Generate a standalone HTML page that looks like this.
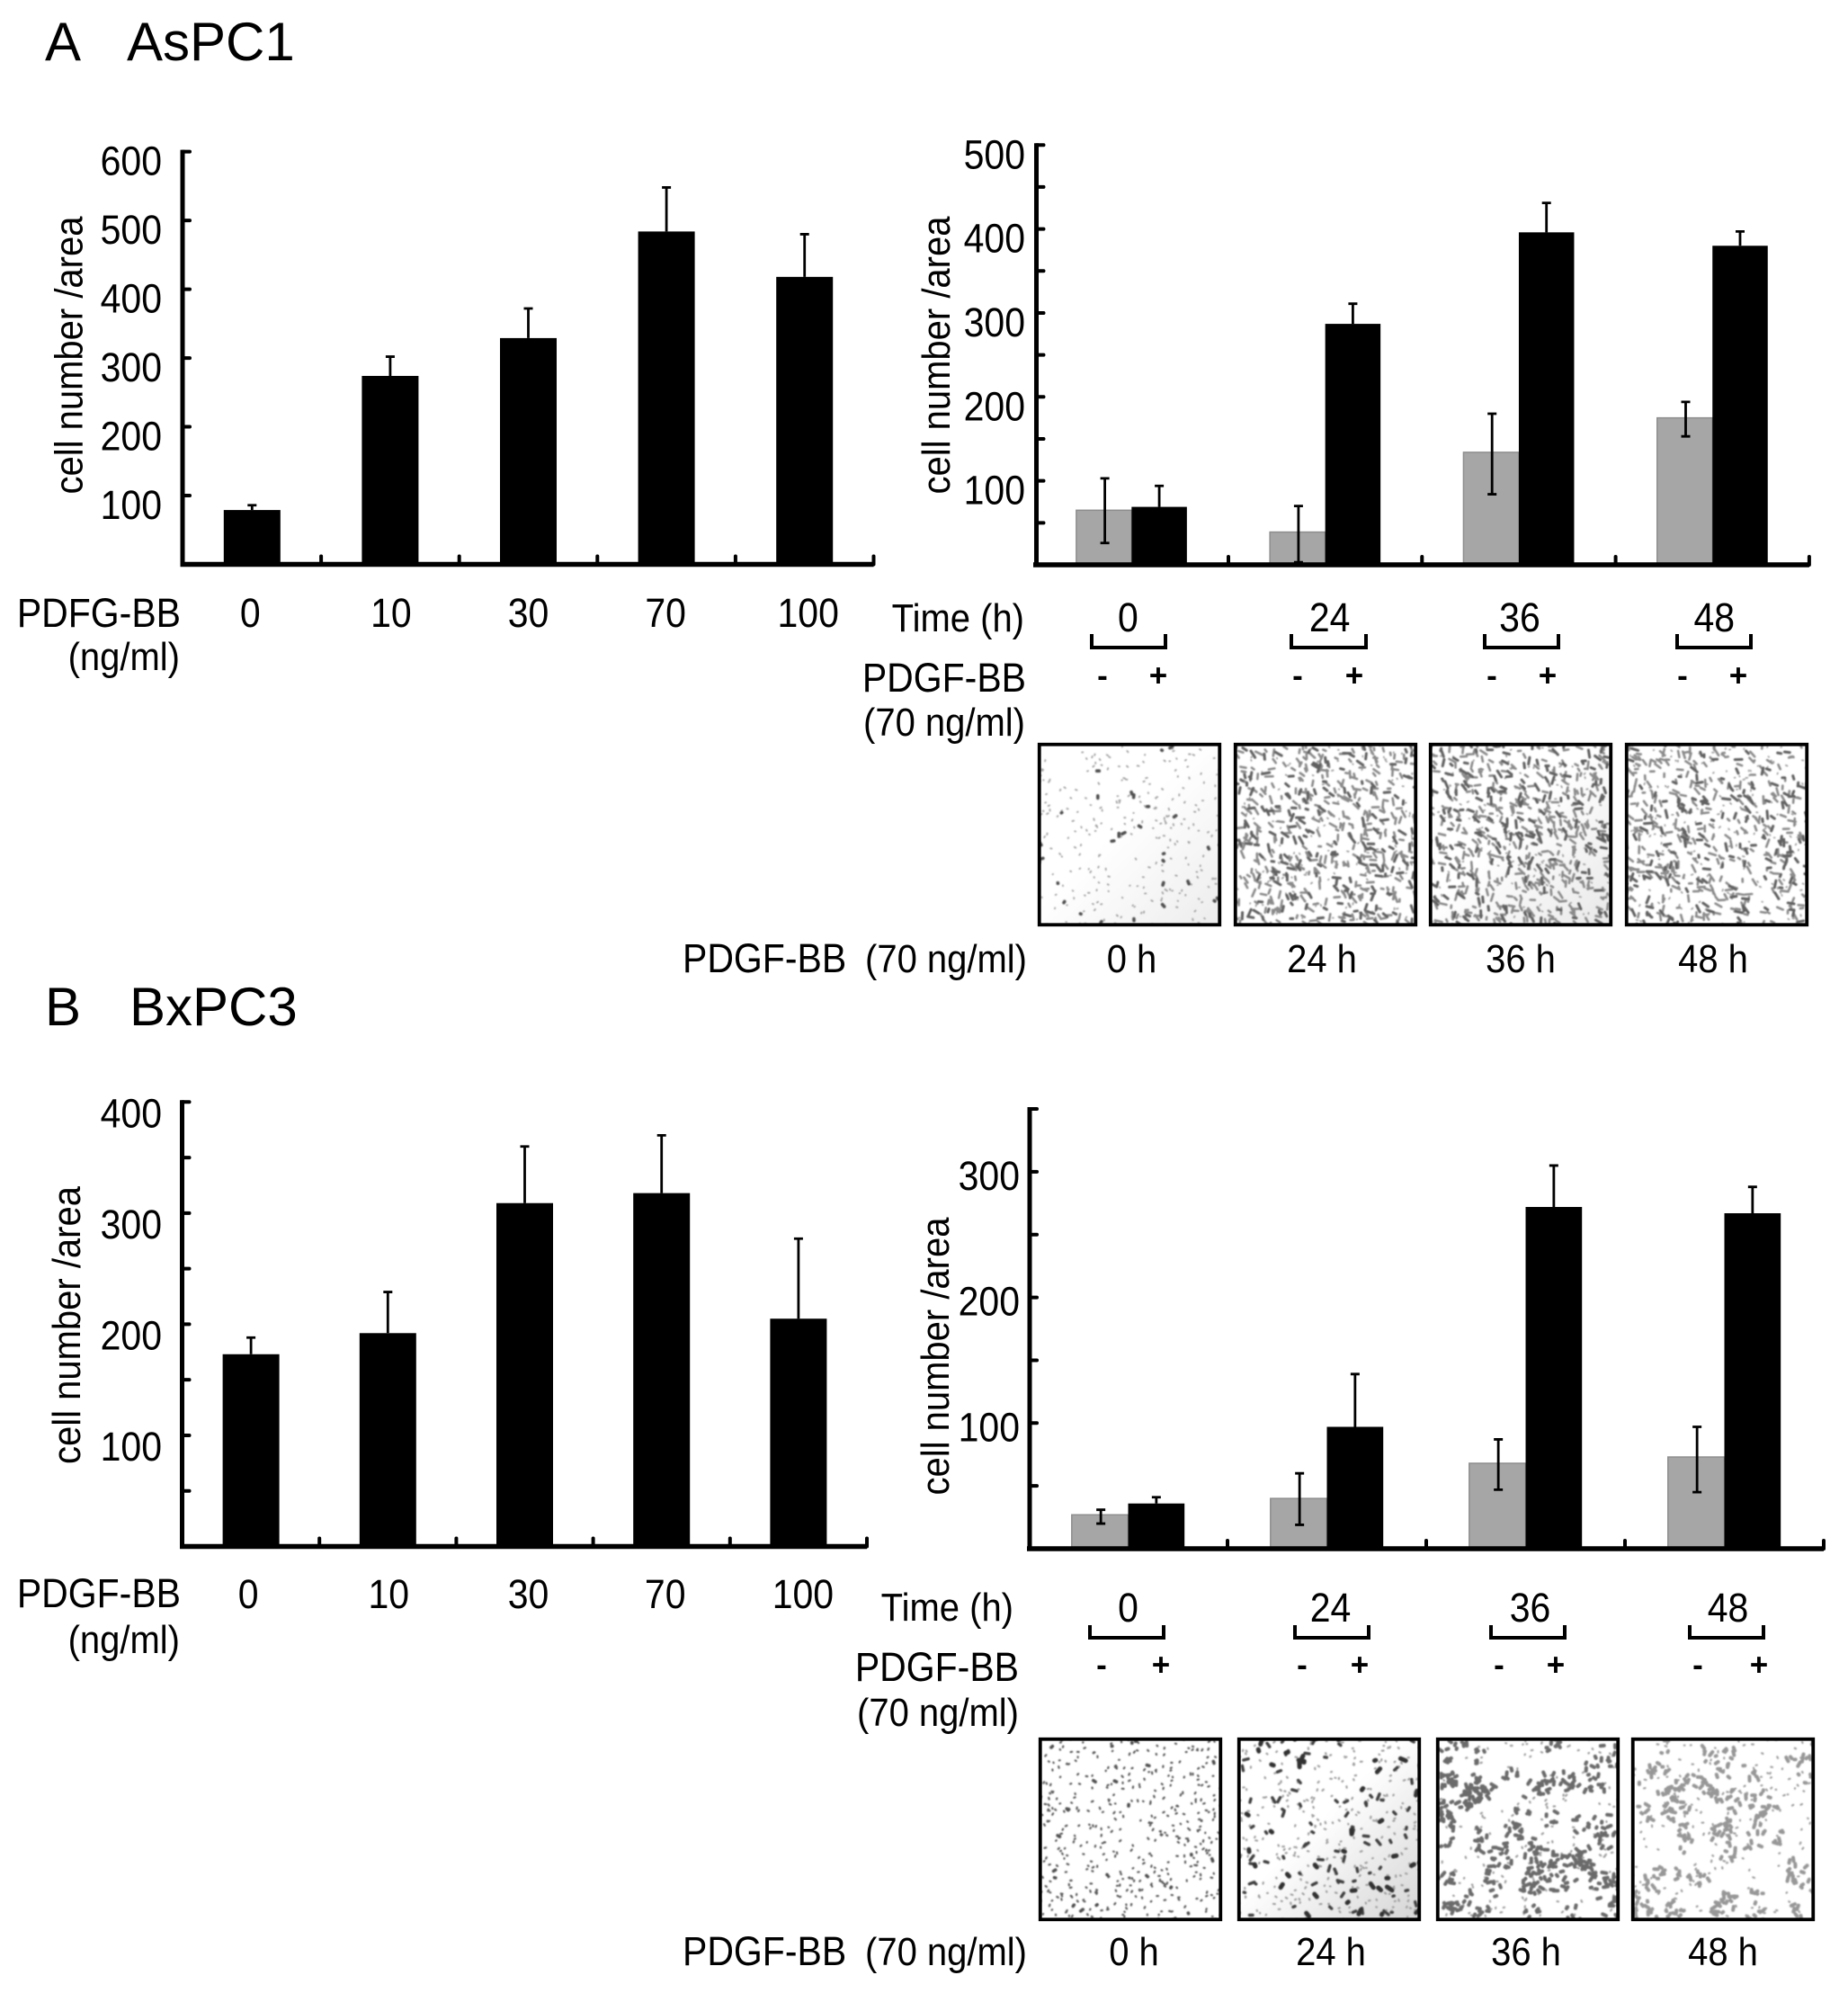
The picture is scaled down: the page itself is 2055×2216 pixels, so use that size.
<!DOCTYPE html>
<html lang="en">
<head>
<meta charset="utf-8">
<title>PDGF-BB cell migration in AsPC1 and BxPC3</title>
<style>
html,body{margin:0;padding:0;background:#fff;width:2055px;height:2216px;overflow:hidden}
svg{position:absolute;left:0;top:0;display:block}
text{font-family:"Liberation Sans",Arial,sans-serif;font-size:40px;fill:#000}
.r{text-anchor:end}
.m{text-anchor:middle}
.t{font-size:60px}
.w{font-size:41px}
.s{font-size:35px;font-weight:bold;text-anchor:middle}
</style>
</head>
<body>
<svg id="fig" width="2055" height="2216" viewBox="0 0 2055 2216" xmlns="http://www.w3.org/2000/svg">
  <defs>
    <filter id="soft" x="-5%" y="-5%" width="110%" height="110%"><feGaussianBlur stdDeviation="0.7"/></filter>
  </defs>
  <rect width="2055" height="2216" fill="#fff"/>

  <text class="t" x="50" y="67">A</text>
  <text class="t" x="141" y="67">AsPC1</text>
  <text class="t" x="50" y="1140">B</text>
  <text class="t" x="144" y="1140">BxPC3</text>

  <text class="r w" x="201" y="695">PDFG-BB</text>
  <text class="r" x="200" y="743">(ng/ml)</text>
  <text class="r w" x="201" y="1785">PDGF-BB</text>
  <text class="r" x="200" y="1836">(ng/ml)</text>

  <text class="r" x="1139" y="700">Time (h)</text>
  <text class="r w" x="1141" y="767">PDGF-BB</text>
  <text class="r" x="1140" y="816">(70 ng/ml)</text>
  <text class="r" x="1127" y="1800">Time (h)</text>
  <text class="r w" x="1133" y="1867">PDGF-BB</text>
  <text class="r" x="1133" y="1917">(70 ng/ml)</text>

  <g fill="none" stroke="#000" stroke-width="4">
    <path d="M1221 705V720H1303V705" transform="translate(-7 0)"/><path d="M1443 705V720H1526V705" transform="translate(-7 0)"/><path d="M1658 705V720H1740V705" transform="translate(-7 0)"/><path d="M1873 705V720H1955V705" transform="translate(-8 0)"/>
  </g>
  <g fill="none" stroke="#000" stroke-width="4">
    <path d="M1212 1807V1821H1294V1807"/><path d="M1440 1807V1821H1522V1807"/><path d="M1658 1807V1821H1740V1807"/><path d="M1879 1807V1821H1961V1807"/>
  </g>

  <g>
    <text class="s" x="1226" y="763">-</text><text class="s" x="1288" y="763">+</text>
    <text class="s" x="1443" y="763">-</text><text class="s" x="1506" y="763">+</text>
    <text class="s" x="1659" y="763">-</text><text class="s" x="1721" y="763">+</text>
    <text class="s" x="1871" y="763">-</text><text class="s" x="1933" y="763">+</text>
  </g>
  <g>
    <text class="s" x="1225" y="1863">-</text><text class="s" x="1291" y="1863">+</text>
    <text class="s" x="1448" y="1863">-</text><text class="s" x="1512" y="1863">+</text>
    <text class="s" x="1667" y="1863">-</text><text class="s" x="1730" y="1863">+</text>
    <text class="s" x="1888" y="1863">-</text><text class="s" x="1956" y="1863">+</text>
  </g>

  <text class="w" x="759" y="1079">PDGF-BB</text>
  <text class="r" x="1142" y="1079">(70 ng/ml)</text>
  <text class="m" x="1258.5" y="1079">0 h</text>
  <text class="m" x="1470" y="1079">24 h</text>
  <text class="m" x="1691" y="1079">36 h</text>
  <text class="m" x="1905" y="1079">48 h</text>

  <text class="w" x="759" y="2183">PDGF-BB</text>
  <text class="r" x="1142" y="2183">(70 ng/ml)</text>
  <text class="m" x="1261" y="2183">0 h</text>
  <text class="m" x="1480" y="2183">24 h</text>
  <text class="m" x="1697" y="2183">36 h</text>
  <text class="m" x="1916" y="2183">48 h</text>
</svg>

<script>
// ---- Panel A, dose response ----
const aDoseCategories = ['0', '10', '30', '70', '100'];
const aDoseValues = [79, 274, 329, 484, 418];
const aDoseErrorTops = [86, 302, 372, 548, 480];
const aDoseYTicks = [0, 100, 200, 300, 400, 500, 600];
const aDoseYLabels = [100, 200, 300, 400, 500, 600];

// ---- Panel A, time course ----
const aTimeCategories = ['0', '24', '36', '48'];
const aTimeControl = [65, 39, 134, 175];
const aTimeControlErrTop = [103, 70, 180, 194];
const aTimeControlErrBottom = [26, 3, 84, 153];
const aTimeTreated = [69, 287, 396, 380];
const aTimeTreatedErrTop = [94, 311, 431, 397];
const aTimeYTicks = [0, 50, 100, 150, 200, 250, 300, 350, 400, 450, 500];
const aTimeYLabels = [100, 200, 300, 400, 500];

// ---- Panel B, dose response ----
const bDoseCategories = ['0', '10', '30', '70', '100'];
const bDoseValues = [173, 192, 309, 318, 205];
const bDoseErrorTops = [188, 229, 360, 370, 277];
const bDoseYTicks = [0, 50, 100, 150, 200, 250, 300, 350, 400];
const bDoseYLabels = [100, 200, 300, 400];

// ---- Panel B, time course ----
const bTimeCategories = ['0', '24', '36', '48'];
const bTimeControl = [27, 40, 68, 73];
const bTimeControlErrTop = [31, 60, 87, 97];
const bTimeControlErrBottom = [20, 19, 47, 45];
const bTimeTreated = [36, 97, 272, 267];
const bTimeTreatedErrTop = [41, 139, 305, 288];
const bTimeYTicks = [0, 50, 100, 150, 200, 250, 300, 350];
const bTimeYLabels = [100, 200, 300];

const NS = 'http://www.w3.org/2000/svg';
const fig = document.getElementById('fig');

function node(parent, tag, attrs) {
  const el = document.createElementNS(NS, tag);
  for (const k in attrs) el.setAttribute(k, attrs[k]);
  parent.appendChild(el);
  return el;
}

function makeGroup(name) {
  const g = node(fig, 'g', {});
  
  
  return g;
}

function linearY(base, pxPerUnit) { return v => base - v * pxPerUnit; }
function bandX(origin, step) { return i => origin + step * (i + 0.5); }

function drawAxes(c, y) {
  const g = makeGroup(c.id + '-axes');
  const right = c.x0 + c.step * c.categories.length;
  const yAxis = node(g, 'line', {x1: c.axisX, x2: c.axisX, y1: y(c.yMax) - 2, y2: c.base + 2.5, stroke: '#000', 'stroke-width': 5});
  
  
  const xAxis = node(g, 'line', {x1: c.axisStart, x2: right, y1: c.base, y2: c.base, stroke: '#000', 'stroke-width': 5.5});
  
  
  c.yTicks.forEach(v => {
    const t = node(g, 'line', {x1: c.axisX, x2: c.axisX + 8, y1: y(v), y2: y(v), stroke: '#000', 'stroke-width': 4, 'stroke-linecap': 'round'});
    
    
  });
  c.categories.forEach((_, i) => {
    const px = c.x0 + c.step * (i + 1);
    const t = node(g, 'line', {x1: px, x2: px, y1: c.base, y2: c.base - 9, stroke: '#000', 'stroke-width': 4, 'stroke-linecap': 'round'});
    
    
  });
  c.yLabels.forEach(v => {
    const t = node(g, 'text', {x: c.labelRight, y: y(v) + c.labelDy, 'text-anchor': 'end', 'class': 'w'});
    t.textContent = v;
    
    
  });
  c.categories.forEach((label, i) => {
    const t = node(g, 'text', {x: c.x0 + c.step * (i + 0.5) + c.catNudge[i], y: c.catY, 'text-anchor': 'middle', 'class': 'w'});
    t.textContent = label;
    
    
  });
  const title = node(g, 'text', {transform: 'translate(' + c.titleX + ' ' + c.titleY + ') rotate(-90)', 'text-anchor': 'middle'});
  title.textContent = 'cell number /area';
  
  
}

function drawBar(g, cx, w, top, base, fill, edge, name) {
  const r = node(g, 'rect', {x: cx - w / 2, y: top, width: w, height: base - top, fill: fill});
  if (edge) { r.setAttribute('stroke', edge); r.setAttribute('stroke-width', 1.5); }
  
  
}

function drawError(g, cx, top, bottom, lowerCap, name) {
  let d = 'M' + cx + ' ' + top + 'V' + bottom + 'M' + (cx - 5) + ' ' + top + 'H' + (cx + 5);
  if (lowerCap) d += 'M' + (cx - 5) + ' ' + bottom + 'H' + (cx + 5);
  const p = node(g, 'path', {d: d, fill: 'none', stroke: '#000', 'stroke-width': 2.8});
  
  
}

function drawDoseChart(c) {
  const y = linearY(c.base, c.pxPerUnit);
  const x = bandX(c.x0, c.step);
  const g = makeGroup(c.id + '-bars');
  c.values.forEach((v, i) => {
    drawError(g, x(i), y(c.errorTops[i]), y(v), false, 'error-bar');
    drawBar(g, x(i), c.barW, y(v), c.base, '#000', null, 'bar-dose');
  });
  drawAxes(c, y);
}

function drawTimeChart(c) {
  const y = linearY(c.base, c.pxPerUnit);
  const x = bandX(c.x0, c.step);
  const g = makeGroup(c.id + '-bars');
  c.categories.forEach((_, i) => {
    const cx0 = x(i) - c.barW / 2;
    const cx1 = x(i) + c.barW / 2;
    drawBar(g, cx0, c.barW, y(c.control[i]), c.base, '#a6a6a6', '#8e8e8e', 'bar-control');
    drawError(g, cx1, y(c.treatedErrTop[i]), y(c.treated[i]), false, 'error-bar-treated');
    drawBar(g, cx1, c.barW, y(c.treated[i]), c.base, '#000', null, 'bar-treated');
    drawError(g, cx0 + 1, y(c.controlErrTop[i]), y(c.controlErrBottom[i]), true, 'error-bar-control');
  });
  drawAxes(c, y);
}

drawDoseChart({
  id: 'a-dose', categories: aDoseCategories, values: aDoseValues, errorTops: aDoseErrorTops,
  yTicks: aDoseYTicks, yLabels: aDoseYLabels, yMax: 600,
  base: 627.5, pxPerUnit: 0.7647, x0: 203.5, step: 153.6, barW: 63, axisX: 203, axisStart: 200.5,
  labelRight: 180, labelDy: 24, catY: 695, catNudge: [-2, 1, 0, -1, 4], titleX: 91.5, titleY: 395
});
drawTimeChart({
  id: 'a-time', categories: aTimeCategories, control: aTimeControl, controlErrTop: aTimeControlErrTop,
  controlErrBottom: aTimeControlErrBottom, treated: aTimeTreated, treatedErrTop: aTimeTreatedErrTop,
  yTicks: aTimeYTicks, yLabels: aTimeYLabels, yMax: 500,
  base: 628, pxPerUnit: 0.9335, x0: 1150.7, step: 215.3, barW: 61.5, axisX: 1152.5, axisStart: 1149,
  labelRight: 1140, labelDy: 24, catY: 700, catNudge: [-4, 5, 1, 2], titleX: 1056, titleY: 395
});
drawDoseChart({
  id: 'b-dose', categories: bDoseCategories, values: bDoseValues, errorTops: bDoseErrorTops,
  yTicks: bDoseYTicks, yLabels: bDoseYLabels, yMax: 400,
  base: 1719.5, pxPerUnit: 1.2355, x0: 203, step: 152.2, barW: 63, axisX: 202.5, axisStart: 200,
  labelRight: 180, labelDy: 26, catY: 1786, catNudge: [-3, 1, 4, 4, 5], titleX: 89, titleY: 1473.5
});
drawTimeChart({
  id: 'b-time', categories: bTimeCategories, control: bTimeControl, controlErrTop: bTimeControlErrTop,
  controlErrBottom: bTimeControlErrBottom, treated: bTimeTreated, treatedErrTop: bTimeTreatedErrTop,
  yTicks: bTimeYTicks, yLabels: bTimeYLabels, yMax: 350,
  base: 1722, pxPerUnit: 1.397, x0: 1144, step: 221, barW: 62.7, axisX: 1145, axisStart: 1142,
  labelRight: 1134, labelDy: 18, catY: 1801, catNudge: [0, 4, 5, 4], titleX: 1055, titleY: 1508
});

// ---- Micrograph textures (decorative stained-cell photographs, not chart data) ----
const micrographs = [
  {name: 'a-micrograph-0h',  x: 1154, y: 826,  kind: 'sparse', dots: 260, dark: 30, tint: '#ececec'},
  {name: 'a-micrograph-24h', x: 1372, y: 826,  kind: 'cells',  dots: 160, cells: 560, tint: null},
  {name: 'a-micrograph-36h', x: 1589, y: 826,  kind: 'cells',  dots: 140, cells: 620, tint: '#e8e8e8'},
  {name: 'a-micrograph-48h', x: 1807, y: 826,  kind: 'cells',  dots: 180, cells: 500, tint: null},
  {name: 'b-micrograph-0h',  x: 1155, y: 1932, kind: 'sparse', dots: 450, dark: 22, tint: null},
  {name: 'b-micrograph-24h', x: 1376, y: 1932, kind: 'blobs',  dots: 320, blobs: 120, tint: '#d4d4d4'},
  {name: 'b-micrograph-36h', x: 1597, y: 1932, kind: 'clusters', dots: 190, clusters: 75, shade: '#6b6b6b'},
  {name: 'b-micrograph-48h', x: 1814, y: 1932, kind: 'clusters', dots: 190, clusters: 52, shade: '#979797'}
];

function seeded(seed) {
  let s = seed >>> 0;
  return () => { s = (s * 1664525 + 1013904223) >>> 0; return s / 4294967296; };
}

function stroke(g, d, color, width) {
  node(g, 'path', {d: d, fill: 'none', stroke: color, 'stroke-width': width, 'stroke-linecap': 'round'});
}

function seg(cx, cy, len, ang) {
  const dx = Math.cos(ang) * len / 2, dy = Math.sin(ang) * len / 2;
  return 'M' + (cx - dx).toFixed(1) + ' ' + (cy - dy).toFixed(1) + 'L' + (cx + dx).toFixed(1) + ' ' + (cy + dy).toFixed(1);
}

const defs = fig.querySelector('defs');
micrographs.forEach((m, idx) => {
  const W = 204, H = 204;
  const rnd = seeded(7919 * (idx + 3));
  const g = makeGroup(m.name);
  const clipId = 'clip' + idx;
  const clip = node(defs, 'clipPath', {id: clipId});
  node(clip, 'rect', {x: m.x, y: m.y, width: W, height: H});
  const outer = node(g, 'g', {'clip-path': 'url(#' + clipId + ')'});
  node(outer, 'rect', {x: m.x, y: m.y, width: W, height: H, fill: '#fff'});
  if (m.tint) {
    const gid = 'tint' + idx;
    const lg = node(defs, 'linearGradient', {id: gid, x1: 0, y1: 0, x2: 1, y2: 1});
    node(lg, 'stop', {offset: '0.45', 'stop-color': '#fff'});
    node(lg, 'stop', {offset: '1', 'stop-color': m.tint});
    node(outer, 'rect', {x: m.x, y: m.y, width: W, height: H, fill: 'url(#' + gid + ')'});
  }
  const inner = node(outer, 'g', {filter: 'url(#soft)'});
  let d = '';
  for (let i = 0; i < m.dots; i++) d += seg(m.x + rnd() * W, m.y + rnd() * H, 0.6 + rnd() * 1.2, rnd() * 3.14);
  stroke(inner, d, m.kind === 'sparse' && idx > 3 ? '#5c5c5c' : '#a0a0a0', idx > 3 ? 2.2 : 1.8);
  if (m.kind === 'sparse') {
    let k = '';
    for (let i = 0; i < m.dark; i++) k += seg(m.x + rnd() * W, m.y + rnd() * H, 0.5 + rnd() * 3, rnd() * 3.14);
    stroke(inner, k, '#505050', 3.6);
  }
  if (m.kind === 'cells') {
    let a = '', b = '';
    for (let i = 0; i < m.cells; i++) {
      const s = seg(m.x + rnd() * W, m.y + rnd() * H, 2.5 + rnd() * 6, 0.9 + (rnd() - 0.5) * 2.2);
      if (i % 3 === 0) a += s; else b += s;
    }
    stroke(inner, b, '#8a8a8a', 2.6);
    stroke(inner, a, '#606060', 3);
  }
  if (m.kind === 'blobs') {
    let k = '', q = '';
    for (let i = 0; i < m.blobs; i++) {
      const s = seg(m.x + rnd() * W, m.y + rnd() * H, 1 + rnd() * 6, rnd() * 3.14);
      if (i % 3) q += s; else k += s;
    }
    stroke(inner, q, '#404040', 3.4);
    stroke(inner, k, '#303030', 5);
  }
  if (m.kind === 'clusters') {
    let k = '';
    for (let i = 0; i < m.clusters; i++) {
      const cx = m.x + rnd() * W, cy = m.y + rnd() * H;
      for (let j = 0; j < 6; j++) {
        k += seg(cx + (rnd() - 0.5) * 20, cy + (rnd() - 0.5) * 20, 1 + rnd() * 4, rnd() * 3.14);
      }
    }
    stroke(inner, k, m.shade, 4);
  }
  const frame = node(g, 'rect', {x: m.x + 1.75, y: m.y + 1.75, width: W - 3.5, height: H - 3.5, fill: 'none', stroke: '#000', 'stroke-width': 3.8});
  
  
});

// Reference glyphs are slightly taller than they are wide: stretch all text along its own vertical.
const STRETCH = 1.1;
fig.querySelectorAll('text').forEach(t => {
  if (t.classList.contains('t') || t.classList.contains('s')) return;
  const cur = t.getAttribute('transform');
  if (cur) {
    t.setAttribute('transform', cur + ' scale(1 ' + STRETCH + ')');
  } else {
    const x = t.getAttribute('x');
    const y = parseFloat(t.getAttribute('y')) + 2;
    t.setAttribute('transform', 'translate(' + x + ' ' + y + ') scale(1 ' + STRETCH + ')');
    t.setAttribute('x', 0);
    t.setAttribute('y', 0);
  }
});
</script>
</body>
</html>
